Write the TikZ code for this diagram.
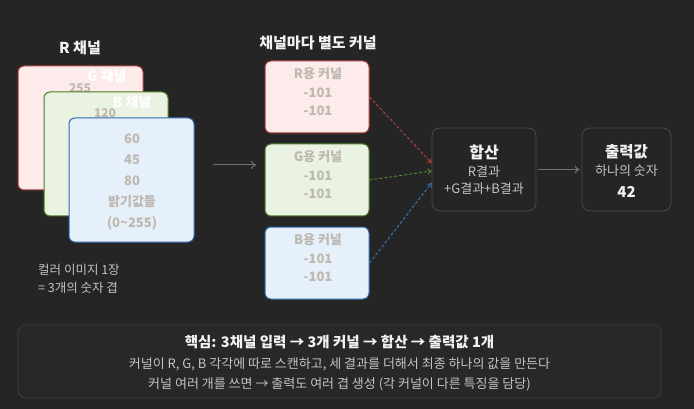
\documentclass[tikz,border=0pt]{standalone}
\usepackage{fontspec}
\setmainfont{Noto Sans CJK KR}
\usetikzlibrary{arrows.meta,calc}
\definecolor{bg}{HTML}{252525}
\definecolor{rfill}{HTML}{FCEBEA}
\definecolor{rline}{HTML}{A83A3A}
\definecolor{gfill}{HTML}{EAF3E1}
\definecolor{gline}{HTML}{4C7A25}
\definecolor{bfill}{HTML}{E6F0FB}
\definecolor{bline}{HTML}{2E6AAE}
\definecolor{valc}{HTML}{BDB8B0}
\definecolor{titc}{HTML}{F2F2F2}
\definecolor{subc}{HTML}{C4C4C4}
\definecolor{darkbox}{HTML}{4A4A4A}
\definecolor{sumfill}{HTML}{282828}
\definecolor{sumline}{HTML}{3E3E3E}
\definecolor{arrc}{HTML}{707070}
\definecolor{rdash}{HTML}{B04444}
\definecolor{gdash}{HTML}{5A8A2C}
\definecolor{bdash}{HTML}{3A78C0}
\tikzset{
  chbox/.style={rounded corners=6pt, line width=1pt, inner sep=0pt},
  kbox/.style={rounded corners=6pt, line width=1pt, inner sep=0pt, minimum width=104pt, minimum height=72pt},
  dbox/.style={rounded corners=8pt, draw=darkbox, line width=0.8pt, fill=bg, inner sep=0pt},
  ttl/.style={text=titc, font=\bfseries\fontsize{15}{17}\selectfont, inner sep=0pt},
  val/.style={text=valc, font=\bfseries\fontsize{13}{15}\selectfont, inner sep=0pt},
  ghost/.style={text=white, font=\bfseries\fontsize{14}{16}\selectfont, inner sep=0pt},
  sub/.style={text=subc, font=\fontsize{13}{15}\selectfont, inner sep=0pt},
  garr/.style={draw=arrc, line width=1pt, -{To[length=5pt,width=8pt]}},
  darr/.style={dashed, dash pattern=on 3pt off 2pt, line width=0.9pt, -{To[length=4pt,width=6pt]}}
}
\begin{document}
\begin{tikzpicture}[x=1pt,y=-1pt]
\fill[bg] (0,0) rectangle (694,409);
\useasboundingbox (0,0) rectangle (694,409);

% input channels
\node[ttl] (rtitle) at (80,48) {R 채널};
\node[chbox, fill=rfill, draw=rline, minimum width=125pt, minimum height=124pt] (rch) at (80.5,128) {};
\node[ghost] (gtitle) at (107,76) {G 채널};
\node[val, font=\bfseries\fontsize{12}{14}\selectfont] (v255) at (80,88) {255};
\node[chbox, fill=gfill, draw=gline, minimum width=124pt, minimum height=124pt] (gch) at (106,154) {};
\node[ghost] (btitle) at (132,102) {B 채널};
\node[val, font=\bfseries\fontsize{12}{14}\selectfont] (v120) at (105,113) {120};
\node[chbox, fill=bfill, draw=bline, minimum width=125pt, minimum height=124pt] (bch) at (131.5,180) {};
\node[val] (v60) at (132,139) {60};
\node[val] (v45) at (132,160) {45};
\node[val] (v80) at (132,181) {80};
\node[val] (vtxt) at (132,202) {밝기값들};
\node[val] (vrng) at (132,223) {(0\textasciitilde255)};

\node[sub, font=\fontsize{12.5}{15}\selectfont, anchor=west] (note1) at (38,270) {컬러 이미지 1장};
\node[sub, font=\fontsize{12.5}{15}\selectfont, anchor=west] (note2) at (38,288) {= 3개의 숫자 겹};

\coordinate (a1) at (213,165);
\coordinate (a2) at (256,165);
\draw[garr] (a1) -- (a2);

% kernels
\node[ttl] (ktitle) at (318,43) {채널마다 별도 커널};
\node[kbox, fill=rfill, draw=rline] (rk) at (317,97) {};
\node[kbox, fill=gfill, draw=gline] (gk) at (317,180) {};
\node[kbox, fill=bfill, draw=bline] (bk) at (317,263) {};
\foreach \k/\l/\y in {rk/R/97, gk/G/180, bk/B/263}{
  \node[val] (\k a) at (318,\y-23) {\l 용 커널};
  \node[val] (\k b) at (318,\y-4) {-101};
  \node[val] (\k c) at (318,\y+14) {-101};
}

% sum
\node[dbox, minimum width=104pt, minimum height=83pt] (sum) at (484,169.5) {};
\node[ttl, font=\bfseries\fontsize{16}{18}\selectfont] (sumt) at (484,152) {합산};
\node[sub] (sum1) at (484,172) {R결과};
\node[sub] (sum2) at (484,189) {+G결과+B결과};

\coordinate (sr) at ($(sum.west)+(0,-6.5)$);
\coordinate (sg) at ($(sum.west)+(0,1.5)$);
\coordinate (sb) at ($(sum.west)+(0,13.5)$);
\draw[darr, draw=rdash] (rk.east) -- (sr);
\draw[darr, draw=gdash] (gk.east) -- (sg);
\draw[darr, draw=bdash] (bk.east) -- (sb);

% output
\node[dbox, minimum width=89pt, minimum height=83pt] (out) at (626.5,169.5) {};
\node[ttl, font=\bfseries\fontsize{15.5}{18}\selectfont] (outt) at (626.5,152) {출력값};
\node[sub] (out1) at (626.5,171) {하나의 숫자};
\node[ttl, font=\bfseries\fontsize{15}{17}\selectfont] (out2) at (626.5,192) {42};
\coordinate (s1) at ($(sum.east)+(2,0)$);
\coordinate (o1) at ($(out.west)+(-2,0)$);
\draw[garr] (s1) -- (o1);

% bottom summary
\node[dbox, fill=sumfill, draw=sumline, minimum width=643pt, minimum height=73pt] (summ) at (339.5,361.5) {};
\node[ttl, font=\bfseries\fontsize{14.5}{17}\selectfont] (sm1) at (339.5,342) {핵심: 3채널 입력 → 3개 커널 → 합산 → 출력값 1개};
\node[sub] (sm2) at (339.5,364) {커널이 R, G, B 각각에 따로 스캔하고, 세 결과를 더해서 최종 하나의 값을 만든다};
\node[sub] (sm3) at (339.5,384) {커널 여러 개를 쓰면 → 출력도 여러 겹 생성 (각 커널이 다른 특징을 담당)};
\end{tikzpicture}
\end{document}
